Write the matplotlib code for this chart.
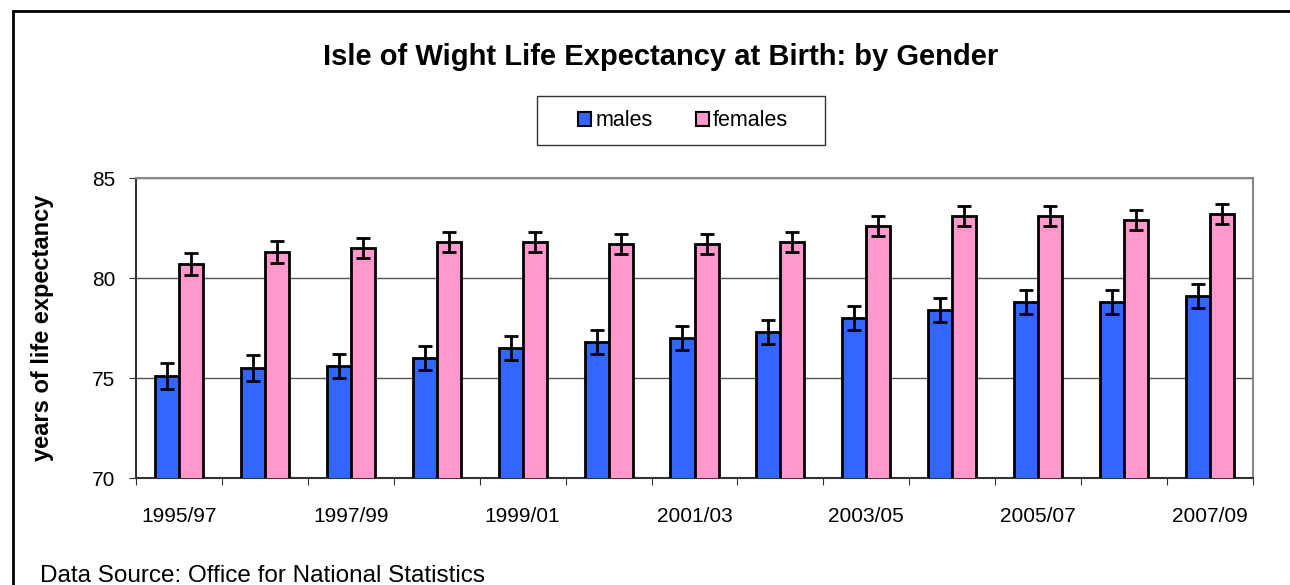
import matplotlib.pyplot as plt
import numpy as np
from matplotlib.patches import Rectangle

plt.rcParams["font.family"] = ["Liberation Sans", "DejaVu Sans"]

periods = ["1995/97", "1996/98", "1997/99", "1998/00", "1999/01", "2000/02", "2001/03",
           "2002/04", "2003/05", "2004/06", "2005/07", "2006/08", "2007/09"]
males = [75.1, 75.5, 75.6, 76.0, 76.5, 76.8, 77.0, 77.3, 78.0, 78.4, 78.8, 78.8, 79.1]
females = [80.7, 81.3, 81.5, 81.8, 81.8, 81.7, 81.7, 81.8, 82.6, 83.1, 83.1, 82.9, 83.2]
males_ci = [0.65, 0.65, 0.6, 0.6, 0.6, 0.6, 0.6, 0.6, 0.6, 0.6, 0.6, 0.6, 0.6]
females_ci = [0.55, 0.55, 0.5, 0.5, 0.5, 0.5, 0.5, 0.5, 0.5, 0.5, 0.5, 0.5, 0.5]

fig = plt.figure(figsize=(12.9, 5.85), dpi=100)
ax = fig.add_axes([136 / 1290, 107 / 585, 1117 / 1290, 300 / 585])

x = np.arange(len(periods))
w = 0.28
err_kw = dict(ecolor="black", elinewidth=2, capsize=5, capthick=2)
ax.bar(x - w / 2, males, w, yerr=males_ci, color="#3366ff",
       edgecolor="black", linewidth=2, label="males", error_kw=err_kw, zorder=3)
ax.bar(x + w / 2, females, w, yerr=females_ci, color="#ff99cc",
       edgecolor="black", linewidth=2, label="females", error_kw=err_kw, zorder=3)

ax.set_xlim(-0.5, len(periods) - 0.5)
ax.set_ylim(70, 85)
ax.set_yticks([70, 75, 80, 85])
ax.grid(axis="y", color="#555555", linewidth=1, zorder=0)

# tick marks between categories, labels on every other category
ax.set_xticks(np.arange(len(periods) + 1) - 0.5)
ax.set_xticklabels([])
ax.set_xticks(x[::2], minor=True)
ax.set_xticklabels(periods[::2], minor=True)
ax.tick_params(axis="x", which="minor", length=0, pad=21, labelsize=15)
ax.tick_params(axis="x", which="major", direction="out", length=5, color="#333333")
ax.tick_params(axis="y", direction="out", length=5, labelsize=15, pad=10, color="#333333")

ax.spines["left"].set_color("#333333")
ax.spines["bottom"].set_color("#333333")
ax.spines["top"].set_color("#888888")
ax.spines["right"].set_color("#888888")
for s in ax.spines.values():
    s.set_linewidth(1.5)

ax.set_ylabel("years of life expectancy", fontsize=17, fontweight="bold")
ax.yaxis.set_label_coords((54 - 136) / 1117, 0.5)

fig.text(661 / 1290, (585 - 57) / 585, "Isle of Wight Life Expectancy at Birth: by Gender",
         ha="center", va="center", fontsize=21, fontweight="bold")

leg = fig.legend(loc="center", bbox_to_anchor=(683 / 1290, (585 - 121) / 585), ncol=2,
                 fontsize=15.5, frameon=False,
                 handlelength=0.6, handleheight=0.6, handletextpad=0.2,
                 columnspacing=2.0)
for h in leg.legend_handles:
    h.set_linewidth(1.5)
fig.patches.append(Rectangle((537 / 1290, (585 - 145) / 585), 288 / 1290, 49 / 585,
                             transform=fig.transFigure, fill=False,
                             edgecolor="#333333", linewidth=1))

fig.text(40 / 1290, 3 / 585, "Data Source: Office for National Statistics",
         ha="left", va="baseline", fontsize=17.5)

fig.patches.append(Rectangle((13 / 1290, -0.1), 1.2, (585 - 11) / 585 + 0.1,
                             transform=fig.transFigure, fill=False,
                             edgecolor="black", linewidth=2))

fig.savefig("out.png", dpi=100)
